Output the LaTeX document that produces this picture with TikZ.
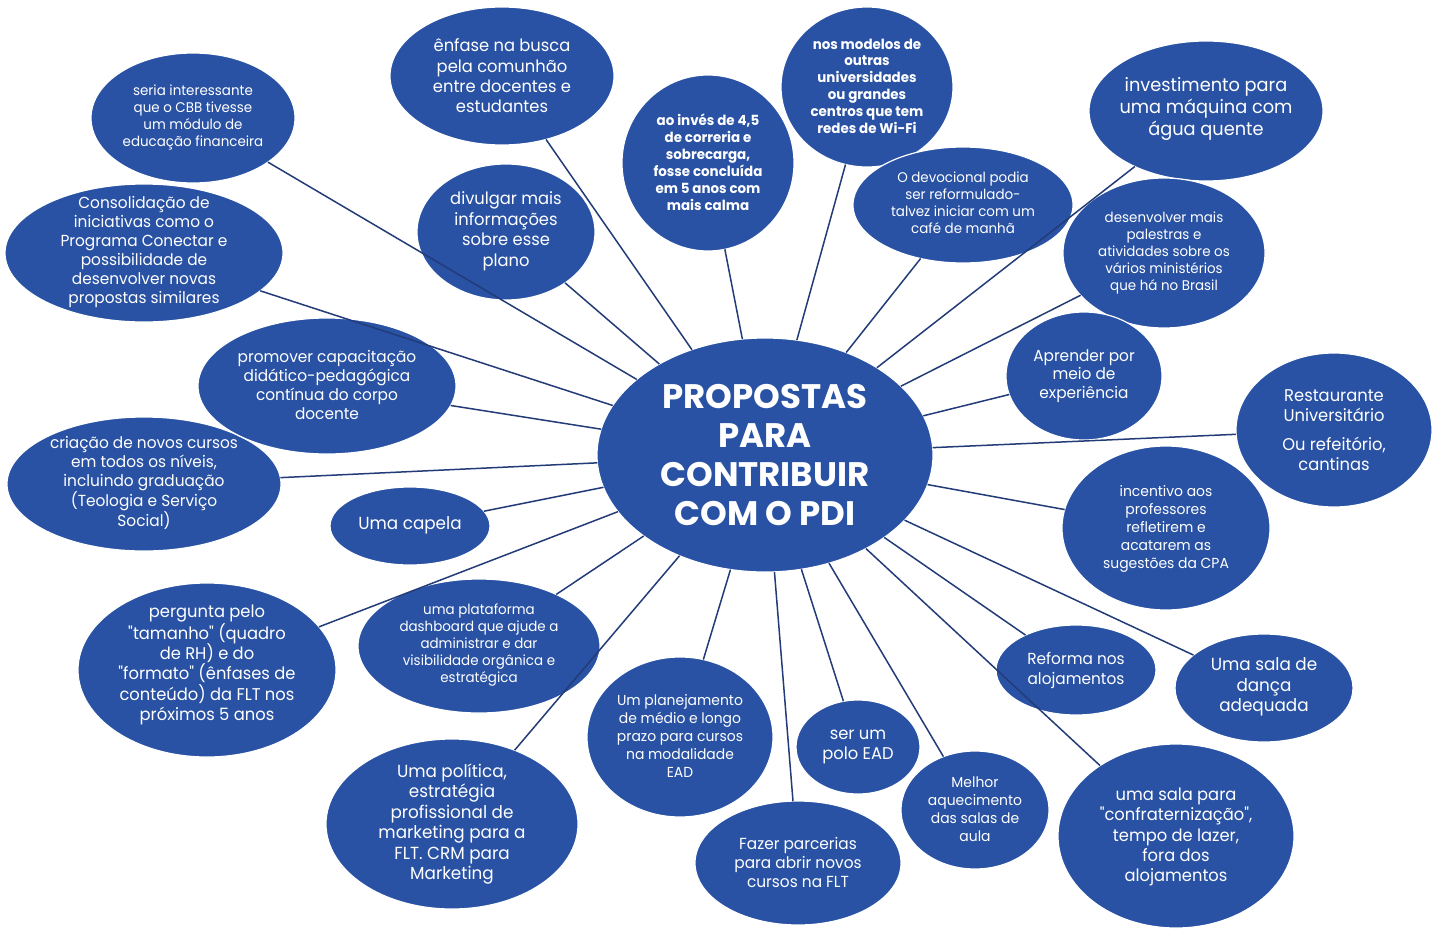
\documentclass[tikz,border=0pt]{standalone}
\usepackage{fontspec}
\setmainfont{Poppins}[FakeStretch=0.96, Ligatures=TeXOff]
\newfontfamily\hubfont{Poppins}
\usetikzlibrary{shapes.geometric}
\definecolor{bubble}{RGB}{41,82,164}
\definecolor{linkc}{RGB}{35,60,120}
\tikzset{
  bub/.style={ellipse, fill=bubble, draw=white, line width=1.2pt, inner sep=0pt, outer sep=0pt},
  sz/.style 2 args={minimum width=#1pt, minimum height=#2pt},
  txt/.style 2 args={text=white, align=center, inner sep=0pt, font=\fontsize{#1pt}{#2pt}\selectfont},
  conn/.style={draw=linkc, line width=1.5pt}
}
\begin{document}
\begin{tikzpicture}[x=1pt,y=-1pt]
\useasboundingbox[fill=white] (0,0) rectangle (1442,929);
% ellipses
\node[bub,sz={204}{130}] (a) at (193,118) {};
\node[bub,sz={278}{138}] (b) at (144,253) {};
\node[bub,sz={224}{138}] (c) at (502,76) {};
\node[bub,sz={178}{136}] (d) at (506,232) {};
\node[bub,sz={172}{176}] (e) at (708,163) {};
\node[bub,sz={172}{160}] (f) at (867,87) {};
\node[bub,sz={220}{116}] (g) at (963,205) {};
\node[bub,sz={234}{140}] (h) at (1206,111) {};
\node[bub,sz={202}{150}] (i) at (1164,253) {};
\node[bub,sz={156}{128}] (j) at (1084,376) {};
\node[bub,sz={208}{164}] (l) at (1166,528) {};
\node[bub,sz={196}{154}] (k) at (1334,430) {};
\node[bub,sz={160}{90}] (m) at (1076,670) {};
\node[bub,sz={178}{108}] (n) at (1264,688) {};
\node[bub,sz={236}{184}] (o) at (1176,836) {};
\node[bub,sz={148}{118}] (p) at (975,810) {};
\node[bub,sz={124}{94}] (q) at (858,747) {};
\node[bub,sz={186}{160}] (s) at (680,737) {};
\node[bub,sz={206}{124}] (r) at (798,863) {};
\node[bub,sz={252}{170}] (t) at (452,824) {};
\node[bub,sz={242}{134}] (u) at (479,646) {};
\node[bub,sz={258}{174}] (v) at (207,670) {};
\node[bub,sz={160}{78}] (w) at (410,526) {};
\node[bub,sz={274}{134}] (x) at (144,484) {};
\node[bub,sz={258}{136}] (y) at (327,386) {};
\node[bub,sz={336}{234}] (hub) at (765,455) {};
% connectors
\foreach \t in {a,b,c,d,e,f,g,h,i,j,k,l,m,n,o,p,q,r,s,t,u,v,w,x,y}
  \draw[conn] (hub) -- (\t);
% texts
\node[txt={34}{39}, font=\hubfont\bfseries\fontsize{34pt}{39pt}\selectfont] (hubt) at (765,455) {PROPOSTAS\\PARA\\CONTRIBUIR\\COM O PDI};
\node[txt={14}{17}] (at) at (193,117) {seria interessante\\que o CBB tivesse\\um módulo de\\educação financeira};
\node[txt={16}{19}] (bt) at (144,252) {Consolidação de\\iniciativas como o\\Programa Conectar e\\possibilidade de\\desenvolver novas\\propostas similares};
\node[txt={17}{20.3}] (ct) at (502,76) {ênfase na busca\\pela comunhão\\entre docentes e\\estudantes};
\node[txt={17}{20.5}] (dt) at (506,231) {divulgar mais\\informações\\sobre esse\\plano};
\node[txt={14}{17}, font=\bfseries\fontsize{14pt}{17pt}\selectfont] (et) at (708,162) {ao invés de 4,5\\de correria e\\sobrecarga,\\fosse concluída\\em 5 anos com\\mais calma};
\node[txt={14}{16.8}, font=\bfseries\fontsize{14pt}{16.8pt}\selectfont] (ft) at (867,86) {nos modelos de\\outras\\universidades\\ou grandes\\centros que tem\\redes de Wi-Fi};
\node[txt={14}{17}] (gt) at (963,203) {O devocional podia\\ser reformulado-\\talvez iniciar com um\\café de manhã};
\node[txt={18.5}{22}] (ht) at (1206,109) {investimento para\\uma máquina com\\água quente};
\node[txt={14}{17}] (it) at (1164,253) {desenvolver mais\\palestras e\\atividades sobre os\\vários ministérios\\que há no Brasil};
\node[txt={16}{18.5}] (jt) at (1084,376) {Aprender por\\meio de\\experiência};
\node[txt={17}{20}] (kt) at (1334,430) {Restaurante\\Universitário\\[9pt]Ou refeitório,\\cantinas};
\node[txt={14.5}{18}] (lt) at (1166,529) {incentivo aos\\professores\\refletirem e\\acatarem as\\sugestões da CPA};
\node[txt={16}{20}] (mt) at (1076,670) {Reforma nos\\alojamentos};
\node[txt={17.5}{20.5}] (nt) at (1264,687) {Uma sala de\\dança\\adequada};
\node[txt={17}{20.3}] (ot) at (1176,837) {uma sala para\\"confraternização",\\tempo de lazer,\\fora dos\\alojamentos};
\node[txt={14.5}{18}] (pt) at (975,809) {Melhor\\aquecimento\\das salas de\\aula};
\node[txt={17}{20}] (qt) at (858,747) {ser um\\polo EAD};
\node[txt={16}{19}] (rt) at (798,862) {Fazer parcerias\\para abrir novos\\cursos na FLT};
\node[txt={14.5}{18}] (st) at (680,736) {Um planejamento\\de médio e longo\\prazo para cursos\\na modalidade\\EAD};
\node[txt={17.5}{20.4}] (tt) at (452,824) {Uma política,\\estratégia\\profissional de\\marketing para a\\FLT. CRM para\\Marketing};
\node[txt={14}{17}] (ut) at (479,645) {uma plataforma\\dashboard que ajude a\\administrar e dar\\visibilidade orgânica e\\estratégica};
\node[txt={17}{20.4}] (vt) at (207,665) {pergunta pelo\\"tamanho" (quadro\\de RH) e do\\"formato" (ênfases de\\conteúdo) da FLT nos\\próximos 5 anos};
\node[txt={17.5}{20}] (wt) at (410,525) {Uma capela};
\node[txt={16}{19}] (xt) at (144,483) {criação de novos cursos\\em todos os níveis,\\incluindo graduação\\(Teologia e Serviço\\Social)};
\node[txt={16}{19}] (yt) at (327,385) {promover capacitação\\didático-pedagógica\\contínua do corpo\\docente};
\end{tikzpicture}
\end{document}
